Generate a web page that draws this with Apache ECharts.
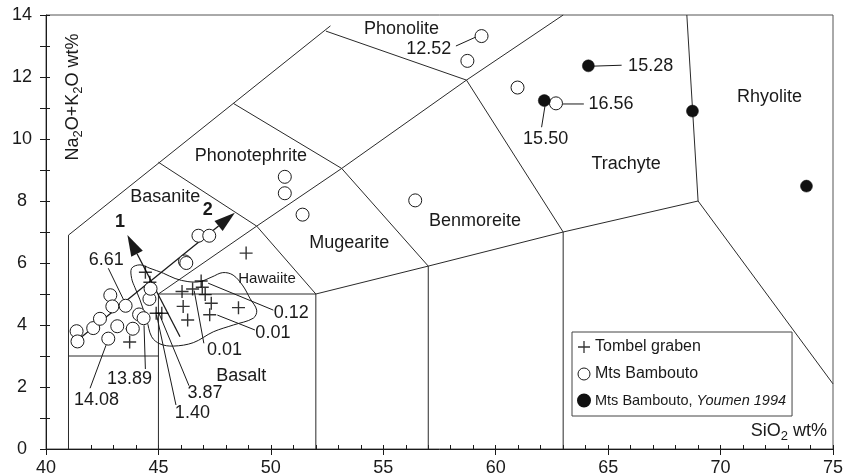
<!DOCTYPE html>
<html>
<head>
<meta charset="utf-8">
<script src="https://cdn.jsdelivr.net/npm/echarts@6/dist/echarts.min.js"></script>
<style>
  html, body { margin: 0; padding: 0; background: #fff; }
  #chart { width: 856px; height: 476px; }
</style>
</head>
<body>
<div id="chart"></div>
<script>
// Total alkali vs silica diagram: SiO2 wt% (x) against Na2O+K2O wt% (y)

const FONT = "'Liberation Sans', Arial, Helvetica, sans-serif";
const INK = '#1a1a1a';

// ---- samples: [SiO2, Na2O+K2O] ----
const tombelGraben = [
  [43.72, 3.45], [43.83, 3.88], [44.42, 5.70], [44.62, 5.38], [44.90, 4.38],
  [45.15, 4.38], [46.05, 5.08], [46.52, 5.16], [46.90, 5.42], [46.95, 5.22],
  [47.08, 4.98], [47.35, 4.70], [46.10, 4.60], [46.30, 4.16], [47.28, 4.33],
  [48.56, 4.56], [48.90, 6.32]
];

const mtsBambouto = [
  [41.36, 3.80], [41.40, 3.47], [42.10, 3.90], [42.40, 4.20], [42.86, 4.96],
  [42.95, 4.60], [42.77, 3.56], [43.17, 3.96], [43.54, 4.62], [43.86, 3.88],
  [44.14, 4.34], [44.34, 4.22], [44.60, 4.84], [44.65, 5.17], [46.18, 6.05],
  [46.24, 6.00], [46.78, 6.88], [47.26, 6.88], [50.62, 8.78], [50.62, 8.25],
  [51.41, 7.56], [56.42, 8.02], [58.74, 12.52], [59.37, 13.32], [60.97, 11.66],
  [62.68, 11.15]
];

const mtsBamboutoYoumen = [
  [62.16, 11.24], [64.12, 12.36], [68.75, 10.90], [73.82, 8.48]
];

const seriesNames = ['Tombel graben', 'Mts Bambouto', 'Mts Bambouto, Youmen 1994'];

// ---- axes ----
const xTickLabels = [40, 45, 50, 55, 60, 65, 70, 75];
const yTickLabels = [0, 2, 4, 6, 8, 10, 12, 14];

// ---- classification field boundaries (diagram geometry, in axis units) ----
const tasBoundaries = [
  [[41, 0], [41, 6.9], [52.65, 13.65]],
  [[41, 3], [45, 3]],
  [[45, 0], [45, 5], [52, 5], [52, 0]],
  [[45, 5], [49.37, 7.19], [53.15, 9.05], [58.7, 11.9], [63, 14]],
  [[45, 9.25], [49.37, 7.19], [52, 5], [57, 5.9], [63, 7], [69, 8], [75, 2.1]],
  [[48.33, 11.15], [53.15, 9.05], [57, 5.9], [57, 0]],
  [[52.45, 13.48], [58.7, 11.9], [63, 7], [63, 0]],
  [[68.5, 14], [69, 8]]
];

// field names and where they sit
const fieldNames = ['Phonolite', 'Phonotephrite', 'Basanite', 'Hawaiite', 'Mugearite',
                    'Benmoreite', 'Trachyte', 'Rhyolite', 'Basalt'];
const fieldAnchors = [[55.81, 13.54], [49.11, 9.45], [45.30, 8.13], [49.83, 5.49], [53.49, 6.64],
                      [59.08, 7.36], [65.80, 9.19], [72.18, 11.34], [48.68, 2.36]];
const fieldFontSize = [18, 18, 18, 15, 18, 18, 18, 18, 18];

// outline of the Tombel graben field
const tombelOutline = [
  [43.81, 5.83], [44.18, 5.94], [44.62, 5.83], [45.22, 5.67], [45.74, 5.50],
  [46.31, 5.40], [46.85, 5.40], [47.38, 5.55], [47.86, 5.69], [48.32, 5.61],
  [48.76, 5.26], [49.07, 4.86], [49.37, 4.48], [49.22, 4.22], [48.33, 4.00],
  [47.44, 3.78], [46.55, 3.43], [45.66, 3.32], [45.07, 3.39], [44.70, 3.62],
  [44.48, 4.16], [44.18, 4.81], [43.96, 5.20], [43.81, 5.50]
];

// evolution trends
const trendArrows = [
  { name: '1', from: [45.96, 3.62], to: [43.62, 6.90], labelAt: [43.29, 7.33] },
  { name: '2', from: [41.51, 3.57], to: [48.40, 7.62], labelAt: [47.19, 7.71] }
];

// sample notes with leader lines
const noteTexts = ['6.61', '14.08', '13.89', '3.87', '1.40', '0.01', '0.01', '0.12',
                   '12.52', '15.50', '16.56', '15.28'];
const noteAnchors = [[42.68, 6.10], [42.25, 1.57], [43.71, 2.27], [47.07, 1.80], [46.51, 1.16],
                     [47.94, 3.19], [50.09, 3.73], [50.91, 4.40], [57.02, 12.90], [62.22, 9.99],
                     [65.13, 11.12], [66.89, 12.35]];
const noteLeaders = [
  [[42.77, 5.83], [43.48, 4.77]],
  [[41.96, 1.96], [42.67, 3.35]],
  [[44.42, 2.58], [44.36, 3.99]],
  [[46.36, 2.04], [45.04, 4.35]],
  [[45.78, 1.42], [44.92, 4.32]],
  [[47.02, 3.41], [46.59, 5.11]],
  [[49.29, 3.84], [47.62, 4.32]],
  [[50.11, 4.48], [47.21, 5.35]],
  [[58.23, 13.00], [59.15, 13.30]],
  [[62.04, 10.38], [62.19, 11.06]],
  [[62.95, 11.13], [63.92, 11.13]],
  [[64.33, 12.35], [65.60, 12.38]]
];

// ---------------------------------------------------------------
const chart = echarts.init(document.getElementById('chart'), null, { renderer: 'canvas' });

// plus-sign marker drawn as two thin bars
const PLUS = 'path://M5.8,0H7.2V13H5.8Z M0,5.8H13V7.2H0Z';

const xMin = xTickLabels[0], xMax = xTickLabels[xTickLabels.length - 1];
const yMin = yTickLabels[0], yMax = yTickLabels[yTickLabels.length - 1];

const tickText = { fontFamily: FONT, fontSize: 18, color: INK };

const option = {
  animation: false,
  backgroundColor: '#fff',
  grid: {
    left: 46, right: 23, top: 15, bottom: 27,
    show: true, borderColor: '#555', borderWidth: 1,
    containLabel: false, outerBoundsMode: 'none'
  },
  xAxis: [
    {
      type: 'value', min: xMin, max: xMax, interval: 5,
      axisLine: { show: true, onZero: false, lineStyle: { color: INK, width: 1 } },
      axisTick: { show: true, length: 6, lineStyle: { color: INK } },
      axisLabel: { margin: 10, ...tickText, formatter: v => xTickLabels.includes(v) ? String(v) : '' },
      splitLine: { show: false }
    },
    {
      type: 'value', min: xMin, max: xMax, interval: 1, position: 'bottom',
      axisLine: { show: false, onZero: false },
      axisTick: { show: true, inside: true, length: 4, lineStyle: { color: INK } },
      axisLabel: { show: false },
      splitLine: { show: false }
    }
  ],
  yAxis: [
    {
      type: 'value', min: yMin, max: yMax, interval: 1,
      axisLine: { show: true, onZero: false, lineStyle: { color: INK, width: 1 } },
      axisTick: { show: true, length: 6, lineStyle: { color: INK } },
      axisLabel: { margin: 24, align: 'center', ...tickText,
                   formatter: v => yTickLabels.includes(v) ? String(v) : '' },
      splitLine: { show: false }
    },
    {
      type: 'value', min: yMin, max: yMax, interval: 1, position: 'left',
      axisLine: { show: false, onZero: false },
      axisTick: { show: true, inside: true, length: 4, lineStyle: { color: INK } },
      axisLabel: { show: false },
      splitLine: { show: false }
    }
  ],
  legend: {
    orient: 'vertical',
    left: 572, top: 332,
    data: [
      { name: seriesNames[0] },
      { name: seriesNames[1], itemStyle: { borderWidth: 1 } },
      { name: seriesNames[2] }
    ],
    itemWidth: 12, itemHeight: 12, itemGap: 11,
    padding: [7, 6, 8, 5],
    borderColor: '#444', borderWidth: 1, borderRadius: 0,
    selectedMode: false,
    textStyle: {
      fontFamily: FONT, fontSize: 16, color: INK,
      rich: {
        s: { fontFamily: FONT, fontSize: 14.5, color: INK },
        it: { fontFamily: FONT, fontSize: 14.5, fontStyle: 'italic', color: INK }
      }
    },
    formatter: name => name === seriesNames[2] ? '{s|Mts Bambouto, }{it|Youmen 1994}' : name
  },
  graphic: [
    {
      type: 'text', x: 73, y: 97, rotation: Math.PI / 2, silent: true,
      style: {
        text: 'Na{s|2}O+K{s|2}O wt%',
        align: 'center', verticalAlign: 'middle',
        fontFamily: FONT, fontSize: 18, fill: INK,
        rich: { s: { fontFamily: FONT, fontSize: 13, fill: INK, padding: [11, 0, 0, 0] } }
      }
    },
    {
      type: 'text', x: 827, y: 431, silent: true,
      style: {
        text: 'SiO{s|2} wt%',
        align: 'right', verticalAlign: 'middle',
        fontFamily: FONT, fontSize: 18, fill: INK,
        rich: { s: { fontFamily: FONT, fontSize: 13, fill: INK, padding: [11, 0, 0, 0] } }
      }
    }
  ],
  series: [
    // field boundaries
    {
      type: 'custom', coordinateSystem: 'cartesian2d', silent: true, z: 1,
      data: tasBoundaries.map(l => l[0]),
      renderItem: (params, api) => ({
        type: 'polyline',
        shape: { points: tasBoundaries[params.dataIndex].map(p => api.coord(p)) },
        style: { stroke: '#2a2a2a', lineWidth: 1, fill: null }
      })
    },
    // field names
    {
      type: 'custom', coordinateSystem: 'cartesian2d', silent: true, z: 2,
      data: fieldAnchors,
      renderItem: (params, api) => {
        const p = api.coord(fieldAnchors[params.dataIndex]);
        return {
          type: 'text', x: p[0], y: p[1],
          style: {
            text: fieldNames[params.dataIndex], align: 'center', verticalAlign: 'middle',
            fontFamily: FONT, fontSize: fieldFontSize[params.dataIndex], fill: INK
          }
        };
      }
    },
    // Tombel graben outline
    {
      type: 'custom', coordinateSystem: 'cartesian2d', silent: true, z: 2,
      data: [tombelOutline[0]],
      renderItem: (params, api) => ({
        type: 'polygon',
        shape: { points: tombelOutline.map(p => api.coord(p)), smooth: 0.35 },
        style: { stroke: INK, lineWidth: 1, fill: null }
      })
    },
    // trend arrows
    {
      type: 'custom', coordinateSystem: 'cartesian2d', silent: true, z: 3,
      data: trendArrows.map(a => a.from),
      renderItem: (params, api) => {
        const a = trendArrows[params.dataIndex];
        const p0 = api.coord(a.from), p1 = api.coord(a.to);
        const dx = p1[0] - p0[0], dy = p1[1] - p0[1];
        const len = Math.hypot(dx, dy);
        const ux = dx / len, uy = dy / len;
        const hl = 21, hw = 6.5;
        const bx = p1[0] - ux * hl, by = p1[1] - uy * hl;
        const lp = api.coord(a.labelAt);
        return {
          type: 'group',
          children: [
            { type: 'line', shape: { x1: p0[0], y1: p0[1], x2: bx, y2: by },
              style: { stroke: INK, lineWidth: 1.3 } },
            { type: 'polygon',
              shape: { points: [p1, [bx - uy * hw, by + ux * hw], [bx + uy * hw, by - ux * hw]] },
              style: { fill: INK } },
            { type: 'text', x: lp[0], y: lp[1],
              style: { text: a.name, align: 'center', verticalAlign: 'middle',
                       fontFamily: FONT, fontSize: 18, fontWeight: 'bold', fill: INK } }
          ]
        };
      }
    },
    // sample notes
    {
      type: 'custom', coordinateSystem: 'cartesian2d', silent: true, z: 3,
      data: noteAnchors,
      renderItem: (params, api) => {
        const i = params.dataIndex;
        const p = api.coord(noteAnchors[i]);
        return {
          type: 'group',
          children: [
            { type: 'polyline', shape: { points: noteLeaders[i].map(q => api.coord(q)) },
              style: { stroke: INK, lineWidth: 1, fill: null } },
            { type: 'text', x: p[0], y: p[1],
              style: { text: noteTexts[i], align: 'center', verticalAlign: 'middle',
                       fontFamily: FONT, fontSize: 18, fill: INK } }
          ]
        };
      }
    },
    {
      name: seriesNames[0], type: 'scatter', z: 4,
      data: tombelGraben,
      symbol: PLUS, symbolSize: 13,
      itemStyle: { color: '#000' }
    },
    {
      name: seriesNames[1], type: 'scatter', z: 5,
      data: mtsBambouto,
      symbol: 'circle', symbolSize: 13,
      itemStyle: { color: '#fff', borderColor: INK, borderWidth: 1, opacity: 1 }
    },
    {
      name: seriesNames[2], type: 'scatter', z: 5,
      data: mtsBamboutoYoumen,
      symbol: 'circle', symbolSize: 12,
      itemStyle: { color: '#111', borderColor: '#111', borderWidth: 0.5, opacity: 1 }
    }
  ]
};

chart.setOption(option);
</script>
</body>
</html>
